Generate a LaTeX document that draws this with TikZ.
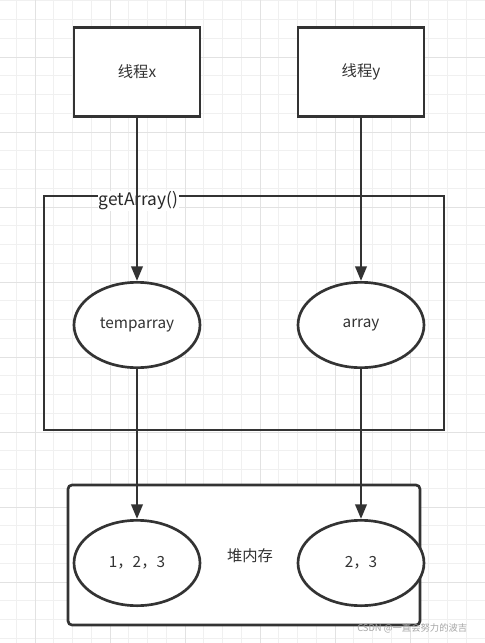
\documentclass[tikz,border=0pt]{standalone}
\usepackage{fontspec}
\setmainfont{Noto Sans CJK SC}
\usepackage{xcolor}
\usetikzlibrary{arrows.meta, positioning, shapes.geometric}

\definecolor{ink}{HTML}{333333}
\definecolor{gridminor}{HTML}{F0F0F0}
\definecolor{gridmajor}{HTML}{E2E2E2}

\begin{document}
\begin{tikzpicture}[
  x=0.75pt, y=-0.75pt,
  thread/.style={draw=ink, line width=2pt, fill=white, minimum width=94.5pt,
                 minimum height=66.75pt, font=\fontsize{11.5}{13}\selectfont, text=ink},
  obj/.style={draw=ink, ellipse, line width=2pt, fill=white, minimum width=94.5pt,
              minimum height=64pt, font=\fontsize{11.5}{13}\selectfont, text=ink},
  arr/.style={-{Triangle[length=11pt, width=8.5pt]}, draw=ink, line width=2pt}
]
  \useasboundingbox (0,0) rectangle (485,643);
  \fill[white] (0,0) rectangle (485,643);
  % grid
  \foreach \i in {0,...,25} {
    \draw[gridminor, line width=0.6pt] ({16.25+18.75*\i},0) -- ({16.25+18.75*\i},643);
  }
  \foreach \i in {0,...,34} {
    \draw[gridminor, line width=0.6pt] (0,{0.75+18.75*\i}) -- (485,{0.75+18.75*\i});
  }
  \foreach \i in {0,...,6} {
    \draw[gridmajor, line width=0.6pt] ({35+75*\i},0) -- ({35+75*\i},643);
  }
  \foreach \i in {0,...,8} {
    \draw[gridmajor, line width=0.6pt] (0,{-18+75*\i}) -- (485,{-18+75*\i});
  }

  % method frame and heap
  \node[draw=ink, line width=2pt, minimum width=300pt, minimum height=175.5pt]
    (method) at (244,313) {};
  \node[fill=white, inner sep=0.5pt, font=\fontsize{13}{15}\selectfont, text=ink!80!black]
    (mlabel) at (138.5,201) {getArray()};
  \node[draw=ink, line width=2pt, rounded corners=3pt, fill=white, minimum width=264pt,
        minimum height=105pt] (heap) at (244,555) {};
  \node[font=\fontsize{11.5}{13}\selectfont, text=ink] (heaplabel) at (250,556) {堆内存};

  % threads
  \node[thread] (tx) at (137,72) {线程x};
  \node[thread] (ty) at (361,72) {线程y};

  % references and objects
  \node[obj] (tmp) at (137,325) {temparray};
  \node[obj] (arrref) at (361,325) {array};
  \node[obj] (obja) at (137,563) {1，2，3};
  \node[obj] (objb) at (361,563) {2，3};

  \draw[arr] (tx) -- (tmp);
  \draw[arr] (ty) -- (arrref);
  \draw[arr] (tmp) -- (obja);
  \draw[arr] (arrref) -- (objb);

  \node[font=\scriptsize, text=gray!70, anchor=east] (mark) at (472,628) {CSDN @一直会努力的波吉};
\end{tikzpicture}
\end{document}
